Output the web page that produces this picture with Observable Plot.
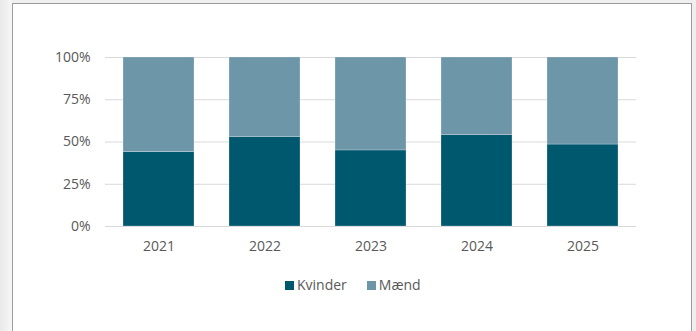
<!DOCTYPE html>
<html>
<head>
<meta charset="utf-8">
<script src="https://cdn.jsdelivr.net/npm/d3@7"></script>
<script src="https://cdn.jsdelivr.net/npm/@observablehq/plot@0.6"></script>
<style>
  html, body { margin: 0; padding: 0; }
  body { width: 696px; height: 331px; overflow: hidden; position: relative; background: #efefef; font-family: "Open Sans", sans-serif; }
  #shadow { position: absolute; left: 0; top: 0; width: 12px; height: 331px; background: linear-gradient(to right, #e9e9e9, #f7f7f7); }
  #frame { position: absolute; left: 12px; top: 3px; width: 678px; height: 340px; background: #fff; border: 1.5px solid #9c9c9c; border-bottom: none; }
  #chart { position: absolute; left: 0; top: 0; }
  #legend { position: absolute; left: 285px; top: 275px; display: flex; align-items: center; font-size: 14px; color: #595959; line-height: 20px; }
  #legend .item { display: flex; align-items: center; margin-right: 20px; }
  #legend .sw { width: 9px; height: 9px; margin-right: 3px; }
</style>
</head>
<body>
<div id="shadow"></div>
<div id="frame"></div>
<div id="chart"></div>
<div id="legend"></div>
<script>
const years = ["2021", "2022", "2023", "2024", "2025"];
const kvinder = [44, 53, 45, 54, 48.5];
const maend = [56, 47, 55, 46, 51.5];
const series = ["Kvinder", "Mænd"];
const colors = ["#00586f", "#6d97a9"];
const yTicks = [0, 25, 50, 75, 100];

const rows = [];
years.forEach((yr, i) => {
  rows.push({year: yr, series: series[0], value: kvinder[i]});
  rows.push({year: yr, series: series[1], value: maend[i]});
});

const chart = Plot.plot({
  width: 696,
  height: 265,
  marginTop: 57,
  marginBottom: 39,
  marginLeft: 105,
  marginRight: 60,
  style: {fontFamily: "Open Sans", fontSize: "14px", color: "#595959", background: "transparent", overflow: "visible"},
  x: {domain: years, paddingInner: 0.33, paddingOuter: 0.165, label: null, tickSize: 0, tickPadding: 15},
  y: {domain: [0, 100], ticks: yTicks, tickFormat: d => d + "%", label: null, tickSize: 0, tickPadding: 15},
  color: {domain: series, range: colors},
  marks: [
    Plot.ruleY(yTicks, {stroke: "#d9d9d9", strokeWidth: 1.2}),
    Plot.barY(rows, {x: "year", y: "value", fill: "series", stroke: "#ffffff", strokeWidth: 0.4, strokeOpacity: 0.6})
  ]
});
document.getElementById("chart").appendChild(chart);

const legend = document.getElementById("legend");
series.forEach((s, i) => {
  const item = document.createElement("div");
  item.className = "item";
  const sw = document.createElement("div");
  sw.className = "sw";
  sw.style.background = colors[i];
  const lab = document.createElement("span");
  lab.textContent = s;
  item.appendChild(sw);
  item.appendChild(lab);
  legend.appendChild(item);
});
</script>
</body>
</html>
